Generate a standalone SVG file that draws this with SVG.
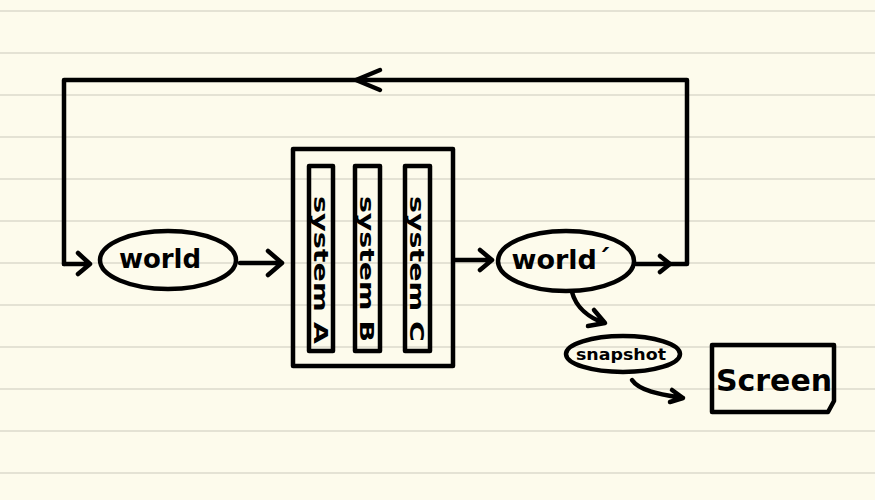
<svg xmlns="http://www.w3.org/2000/svg" width="875" height="500" viewBox="0 0 875 500">
<defs>
<style>
.bg{fill:#fdfbec}
.rule{stroke:#e4e2d4;stroke-width:2}
.s{fill:none;stroke:#000;stroke-width:4.5;stroke-linecap:round;stroke-linejoin:round}
.t{font-family:"DejaVu Sans","Liberation Sans",sans-serif;font-weight:bold;fill:#000}
</style>
</defs>
<rect class="bg" width="875" height="500"/>
<g id="rules">
<line class="rule" x1="0" y1="11" x2="875" y2="11"/>
<line class="rule" x1="0" y1="53" x2="875" y2="53"/>
<line class="rule" x1="0" y1="95" x2="875" y2="95"/>
<line class="rule" x1="0" y1="137" x2="875" y2="137"/>
<line class="rule" x1="0" y1="179" x2="875" y2="179"/>
<line class="rule" x1="0" y1="221" x2="875" y2="221"/>
<line class="rule" x1="0" y1="263" x2="875" y2="263"/>
<line class="rule" x1="0" y1="305" x2="875" y2="305"/>
<line class="rule" x1="0" y1="347" x2="875" y2="347"/>
<line class="rule" x1="0" y1="389" x2="875" y2="389"/>
<line class="rule" x1="0" y1="431" x2="875" y2="431"/>
<line class="rule" x1="0" y1="473" x2="875" y2="473"/>
</g>
<g id="connectors">
<path class="s" d="M64,264 V80 H687 V264 H636"/>
<path class="s" d="M380,70 L356,80 L380,90"/>
<path class="s" d="M64,264 H88 M78,253 L90,264 L78,274"/>
<path class="s" d="M660,256 L670,264 L660,272"/>
<path class="s" d="M240,263 H282 M268,251 L282,263 L268,275"/>
<path class="s" d="M455,260 H492 M480,250 L492,260 L480,270"/>
<path class="s" d="M572,292 C576,308 590,318 604,323 M594,310 L605,323 L588,326"/>
<path class="s" d="M632,380 C640,392 665,395 683,398 M672,390 L683,398 L670,402"/>
</g>
<g id="world">
<ellipse class="s" cx="168" cy="260" rx="68" ry="29"/>
<text class="t" x="160" y="268" font-size="26" text-anchor="middle">world</text>
</g>
<g id="systems">
<rect class="s" x="293" y="149" width="160" height="217"/>
<g id="systemA">
<rect class="s" x="309" y="166" width="24" height="185"/>
<text class="t" font-size="20" textLength="148" lengthAdjust="spacingAndGlyphs" transform="translate(314,196) rotate(90)">system A</text>
</g>
<g id="systemB">
<rect class="s" x="355" y="166" width="25" height="185"/>
<text class="t" font-size="20" textLength="146" lengthAdjust="spacingAndGlyphs" transform="translate(360,196) rotate(90)">system B</text>
</g>
<g id="systemC">
<rect class="s" x="405" y="166" width="25" height="185"/>
<text class="t" font-size="20" textLength="146" lengthAdjust="spacingAndGlyphs" transform="translate(410,196) rotate(90)">system C</text>
</g>
</g>
<g id="worldPrime">
<ellipse class="s" cx="566" cy="261" rx="68" ry="30"/>
<text class="t" x="561" y="269" font-size="27" text-anchor="middle">world´</text>
</g>
<g id="snapshot">
<ellipse class="s" cx="623" cy="354" rx="57" ry="18"/>
<text class="t" x="621" y="360" font-size="16" text-anchor="middle" textLength="90" lengthAdjust="spacingAndGlyphs">snapshot</text>
</g>
<g id="screen">
<path class="s" d="M712,345 H834 V401 L828,412 H712 Z"/>
<text class="t" x="774" y="391" font-size="30" text-anchor="middle">Screen</text>
</g>
</svg>
